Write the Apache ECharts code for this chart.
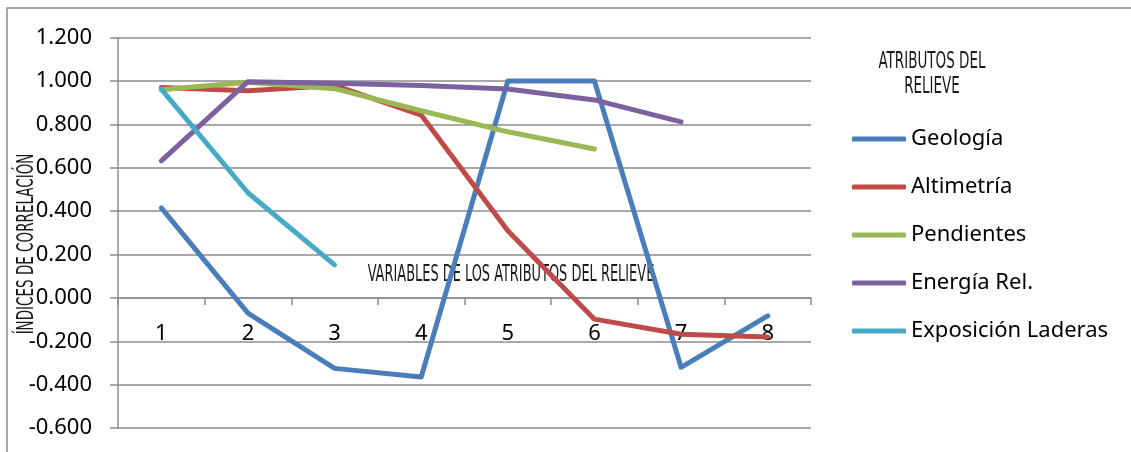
<!DOCTYPE html>
<html>
<head>
<meta charset="utf-8">
<script src="https://cdn.jsdelivr.net/npm/echarts@6/dist/echarts.min.js"></script>
<style>
  html, body { margin: 0; padding: 0; background: #fff; }
  #chart { width: 1131px; height: 452px; }
</style>
</head>
<body>
<div id="chart"></div>
<script>
// Variables (1..8) of the relief attributes
const categories = ['1', '2', '3', '4', '5', '6', '7', '8'];

// Correlation indices per relief attribute
const geologia   = [0.415, -0.070, -0.325, -0.365, 1.000, 1.000, -0.320, -0.083];
const altimetria = [0.970, 0.955, 0.980, 0.843, 0.310, -0.098, -0.168, -0.180];
const pendientes = [0.960, 0.995, 0.965, 0.863, 0.766, 0.687, null, null];
const energiaRel = [0.632, 0.997, 0.990, 0.980, 0.963, 0.913, 0.812, null];
const exposicion = [0.963, 0.485, 0.152, null, null, null, null, null];

const seriesNames = ['Geología', 'Altimetría', 'Pendientes', 'Energía Rel.', 'Exposición Laderas'];
const seriesData = [geologia, altimetria, pendientes, energiaRel, exposicion];
const colors = ['#4a7ebb', '#be4b48', '#98b954', '#7d60a0', '#46aac5'];

const yMin = -0.6, yMax = 1.2;
const gridTop = 37.7, gridBottom = 24, chartHeight = 452;
// the category axis sits on the zero line of the value axis
const plotHeight = chartHeight - gridTop - gridBottom;
const zeroOffset = -plotHeight * (0 - yMin) / (yMax - yMin);

const gridColor = '#8c8c8c';
const narrowFont = '"Liberation Sans Narrow", "DejaVu Sans Condensed", "Liberation Sans", sans-serif';
const textFont = '"Noto Sans", "Open Sans", sans-serif';

const chart = echarts.init(document.getElementById('chart'), null, { renderer: 'canvas' });

chart.setOption({
  animation: false,
  color: colors,
  grid: { left: 118, right: 320, top: gridTop, bottom: gridBottom, containLabel: false, outerBoundsMode: 'none' },
  xAxis: {
    type: 'category',
    data: categories,
    boundaryGap: true,
    position: 'bottom',
    offset: zeroOffset,
    axisLine: { onZero: false, lineStyle: { color: gridColor, width: 1.5 } },
    axisTick: { show: true, length: 7, inside: false, alignWithLabel: false, lineStyle: { color: gridColor, width: 1.5 } },
    axisLabel: { margin: 25, color: '#000', fontFamily: textFont, fontSize: 22 },
    splitLine: { show: false }
  },
  yAxis: {
    type: 'value',
    min: yMin,
    max: yMax,
    interval: 0.2,
    axisLine: { show: true, lineStyle: { color: gridColor, width: 1.5 } },
    axisTick: { show: true, length: 8, inside: false, lineStyle: { color: gridColor, width: 1.5 } },
    axisLabel: {
      margin: 26,
      color: '#000',
      fontFamily: textFont,
      fontSize: 22,
      formatter: v => (Math.round(v * 1000) / 1000).toFixed(3)
    },
    splitLine: { show: true, lineStyle: { color: gridColor, width: 1.5 } }
  },
  legend: {
    orient: 'vertical',
    left: 852,
    top: 126,
    padding: 0,
    itemWidth: 54,
    itemHeight: 5,
    itemGap: 22,
    icon: 'roundRect',
    textStyle: { color: '#000', fontFamily: textFont, fontSize: 22, lineHeight: 26 },
    data: seriesNames
  },
  graphic: [
    // outer chart frame
    {
      type: 'rect',
      shape: { x: 7, y: 8, width: 1140, height: 470 },
      style: { fill: 'none', stroke: gridColor, lineWidth: 1.5 },
      silent: true
    },
    // legend heading
    {
      type: 'text',
      x: 932, y: 62,
      scaleY: 1.55,
      style: { text: 'ATRIBUTOS DEL', fontFamily: narrowFont, fontSize: 15, fill: '#1a1a1a', align: 'center', verticalAlign: 'middle' }
    },
    {
      type: 'text',
      x: 932, y: 87,
      scaleY: 1.55,
      style: { text: 'RELIEVE', fontFamily: narrowFont, fontSize: 15, fill: '#1a1a1a', align: 'center', verticalAlign: 'middle' }
    },
    // x axis title
    {
      type: 'text',
      x: 511, y: 275,
      scaleY: 1.6,
      style: { text: 'VARIABLES DE LOS ATRIBUTOS DEL RELIEVE', fontFamily: narrowFont, fontSize: 14.4, fill: '#1a1a1a', align: 'center', verticalAlign: 'middle' }
    },
    // y axis title
    {
      type: 'text',
      x: 27, y: 244,
      rotation: Math.PI / 2,
      scaleY: 1.55,
      style: { text: 'ÍNDICES DE CORRELACIÓN', fontFamily: narrowFont, fontSize: 15, fill: '#1a1a1a', align: 'center', verticalAlign: 'middle' }
    }
  ],
  series: seriesNames.map((name, i) => ({
    name,
    type: 'line',
    data: seriesData[i],
    symbol: 'none',
    connectNulls: false,
    lineStyle: { width: 5, color: colors[i], cap: 'round', join: 'round' },
    itemStyle: { color: colors[i] },
    z: 2 + i
  }))
});
</script>
</body>
</html>
